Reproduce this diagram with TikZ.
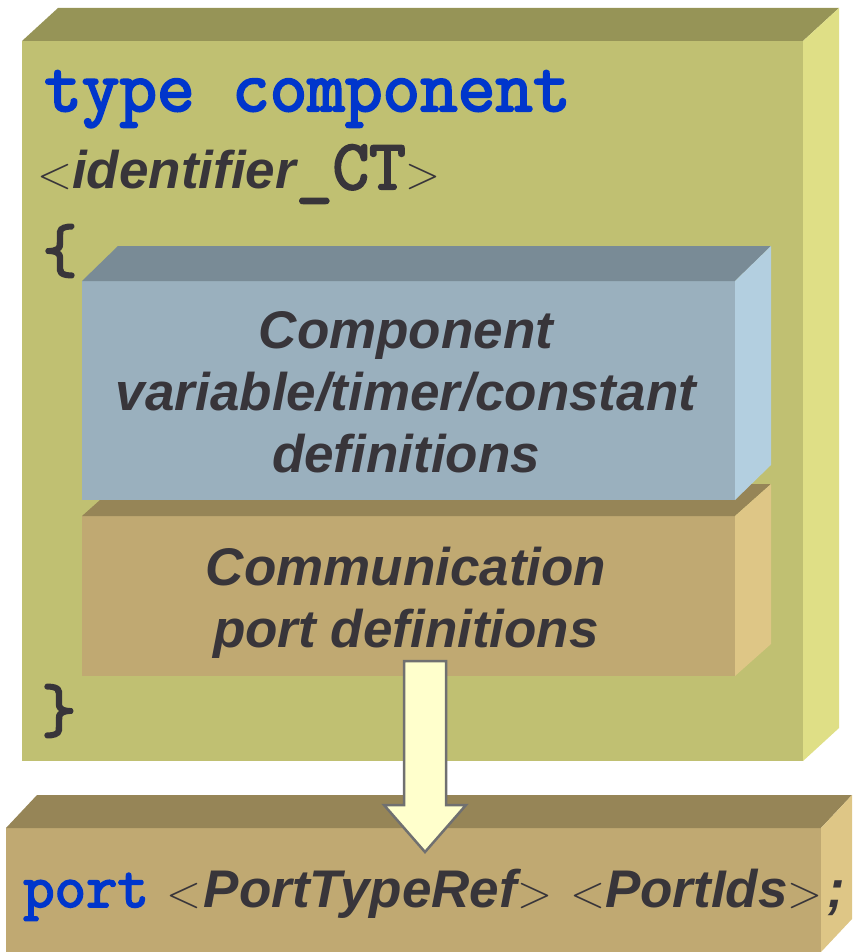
\documentclass[tikz,border=0pt]{standalone}
\usepackage{fontspec}
\setmainfont{Liberation Sans}
\newfontfamily\codefont[FakeBold=3]{Latin Modern Mono}
\newfontfamily\thinfont{Latin Modern Roman}
\usetikzlibrary{positioning}

\definecolor{olivefront}{HTML}{C0C072}
\definecolor{olivetop}{HTML}{969457}
\definecolor{oliveside}{HTML}{DFDF86}
\definecolor{steelfront}{HTML}{9AB0BE}
\definecolor{steeltop}{HTML}{798B96}
\definecolor{steelside}{HTML}{B3CFE0}
\definecolor{tanfront}{HTML}{C0A972}
\definecolor{tantop}{HTML}{968557}
\definecolor{tanside}{HTML}{DEC686}
\definecolor{kwblue}{HTML}{0036CC}
\definecolor{ink}{HTML}{38353A}
\definecolor{arrowfill}{HTML}{FFFFCC}
\definecolor{arrowline}{HTML}{707070}

% a 3d slab: left, top, right, bottom, depth x, depth y, colour prefix
\newcommand{\slab}[7]{%
  \fill[#7front] (#1,#2) rectangle (#3,#4);
  \fill[#7top] (#1,#2) -- ++(#5,-#6) -- (#3+#5,#2-#6) -- (#3,#2) -- cycle;
  \fill[#7side] (#3,#2) -- ++(#5,-#6) -- (#3+#5,#4-#6) -- (#3,#4) -- cycle;}
\newcommand{\ang}[1]{{\thinfont\mdseries\upshape\fontsize{46}{46}\selectfont#1}}
\newcommand{\code}[2]{{\codefont\mdseries\upshape\fontsize{#1}{#1}\selectfont#2}}

\begin{document}
\begin{tikzpicture}[x=1pt, y=-1pt, line join=round,
	kw/.style={font=\codefont\fontsize{73}{73}\selectfont, text=kwblue, inner sep=0},
	def/.style={font=\bfseries\itshape\fontsize{53}{62}\selectfont, text=ink, inner sep=0},
	brace/.style={font=\codefont\fontsize{68}{68}\selectfont, text=ink, inner sep=0},
	blockarrow/.style={fill=arrowfill, draw=arrowline, line width=2.5pt, line join=miter}]
	\useasboundingbox (0,0) rectangle (852,952);
	% boxes
	\slab{22}{41}{803}{761}{36}{33}{olive}
	\slab{82}{516}{735}{676}{36}{32}{tan}
	\slab{82}{281}{735}{500}{36}{35}{steel}
	\slab{6}{828}{821}{952}{31}{33}{tan}
	% component type
	\node[kw, anchor=base west] (kwtype) at (44,111) {type component};
	\node[def, anchor=base west] (ident) at (37,189) {\ang{<}identifier\code{71}{\_CT}\ang{>}};
	\node[brace] (lbrace) at (60,251) {\{};
	\node[brace] (rbrace) at (59,711) {\}};
	\foreach \t [count=\i] in {Component,{variable/timer/constant},definitions}
	\node[def, anchor=base] (var\i) at (406,286+62*\i) {\t};
	\foreach \t [count=\i] in {Communication,port definitions}
	\node[def, anchor=base] (port\i) at (406,523+62*\i) {\t};
	% port declaration
	\node[def, anchor=base west] (portdecl) at (23,907)
	{\textcolor{kwblue}{\code{61}{port}}\hspace{18pt}\ang{<}\hspace{2pt}PortTypeRef\ang{>}\hspace{18pt}\ang{<}PortIds\ang{>}\hspace{5pt};};
	\coordinate (arrtop) at (425,661);
	\coordinate (arrtip) at (425,852);
	\draw[blockarrow] (arrtop) ++(-21,0) -- ++(0,144) -- ++(-20,0) -- (arrtip)
	-- ++(41,-47) -- ++(-20,0) -- ++(0,-144) -- cycle;
\end{tikzpicture}
\end{document}
